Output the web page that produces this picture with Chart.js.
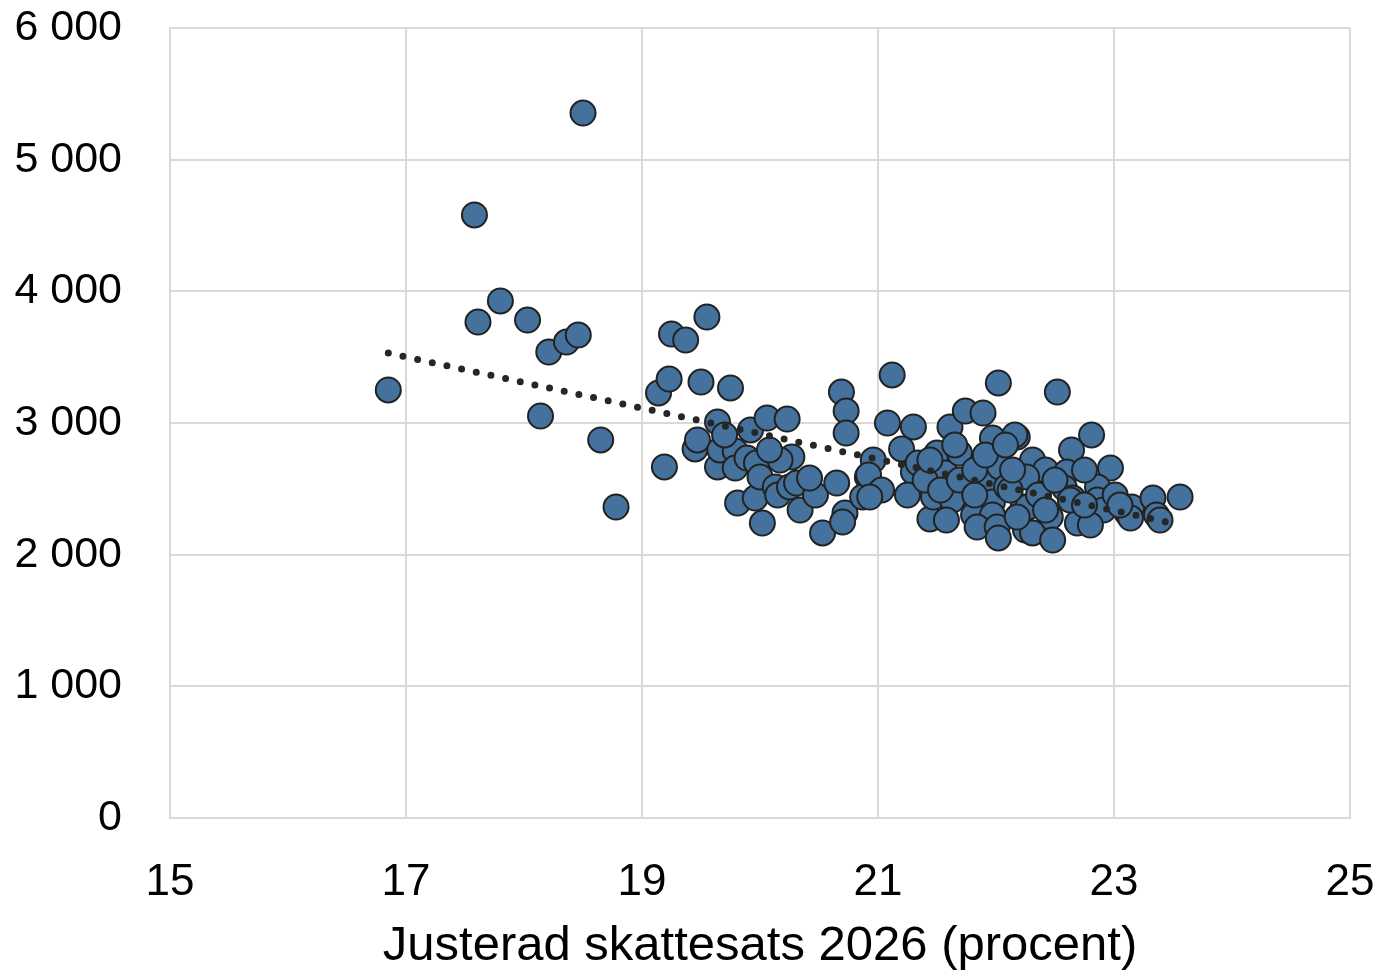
<!DOCTYPE html>
<html>
<head>
<meta charset="utf-8">
<script src="https://cdn.jsdelivr.net/npm/chart.js@4/dist/chart.umd.min.js"></script>
<style>
  html, body { margin: 0; padding: 0; background: #fff; }
  #wrap { width: 1380px; height: 973px; position: relative; }
</style>
</head>
<body>
<div id="wrap"><canvas id="chart" width="1380" height="973"></canvas></div>
<script>
// skattesats (procent) per kommun
const skattesats = [
  16.85, 17.58, 18.50, 17.61, 17.80, 18.03, 18.14, 18.21, 18.36, 18.46,
  18.65, 18.78, 19.14, 19.23, 19.25, 19.37, 19.19, 19.50, 19.55, 19.45,
  19.47, 19.64, 19.75, 19.64, 19.66, 19.79, 19.79, 19.92, 19.89, 19.97,
  19.81, 19.96, 20.02, 20.06, 20.23, 20.27, 20.00, 20.13, 20.15, 20.25,
  20.31, 20.34, 20.47, 20.65, 20.53, 20.72, 20.70, 20.69, 20.73, 20.73,
  20.91, 20.87, 20.96, 20.92, 21.03, 21.12, 21.08, 21.30, 21.20, 20.93,
  21.30, 21.34, 21.50, 21.25, 21.44, 21.47, 21.57, 21.69, 21.63, 21.58,
  21.61, 21.74, 21.89, 22.02, 21.97, 22.18, 21.92, 22.03, 22.25, 21.97,
  21.81, 21.97, 21.84, 22.01, 22.02, 22.23, 22.25, 22.52, 22.81, 22.64,
  22.97, 22.31, 22.42, 22.60, 22.26, 22.58, 22.65, 22.86, 22.86, 22.91,
  22.27, 22.46, 22.69, 22.80, 22.31, 22.48, 23.11, 23.15, 23.14, 23.33,
  23.36, 23.39, 23.56, 22.16, 22.63, 22.09, 22.18, 21.40, 21.53, 21.69,
  21.82, 21.82, 22.12, 22.36, 22.50, 22.75, 22.75, 22.14, 22.42, 21.91,
  22.08, 21.65, 21.44, 23.01, 23.05, 20.17, 20.08, 19.70, 20.42
];
// värde (kronor) per kommun
const belopp = [
  3251, 4580, 5354, 3767, 3927, 3782, 3053, 3539, 3615, 3668,
  2871, 2362, 3228, 3334, 3676, 3630, 2666, 3311, 3805, 2803,
  2871, 3008, 3266, 2666, 2795, 2787, 2658, 2947, 2734, 2696,
  2392, 2430, 2240, 3038, 3030, 2742, 2590, 2514, 2453, 2514,
  2544, 2339, 2453, 2544, 2165, 2316, 2248, 3235, 3091, 2924,
  2590, 2438, 2719, 2605, 2491, 3365, 3000, 2970, 2803, 2438,
  2628, 2696, 2772, 2453, 2271, 2438, 2620, 2772, 2415, 2263,
  2970, 3091, 3076, 3304, 2886, 2894, 2567, 2666, 2643, 2400,
  2301, 2301, 2210, 2210, 2127, 2362, 2187, 3235, 2909, 2795,
  2658, 2719, 2643, 2628, 2590, 2506, 2430, 2514, 2415, 2339,
  2362, 2286, 2240, 2225, 2165, 2111, 2316, 2362, 2278, 2430,
  2301, 2263, 2438, 2909, 2415, 2514, 2286, 2567, 2491, 2567,
  2643, 2453, 2491, 2453, 2567, 2643, 2377, 2643, 2339, 2757,
  2833, 2833, 2719, 2453, 2377, 2719, 2795, 2909, 2582
];
// linjär trendlinje (start, slut)
const trendX = [16.85, 23.49];
const trendY = [3531, 2240];

const xTicks = [15, 17, 19, 21, 23, 25];
const yTicks = [0, 1000, 2000, 3000, 4000, 5000, 6000];
const xTitle = 'Justerad skattesats 2026 (procent)';

const points = skattesats.map((x, i) => ({ x: x, y: belopp[i] }));
const trend = trendX.map((x, i) => ({ x: x, y: trendY[i] }));

function fmt(v) {
    return String(v).replace(/\B(?=(\d{3})+(?!\d))/g, ' ');
}

const family = '"Liberation Sans", Arial, sans-serif';

new Chart(document.getElementById('chart').getContext('2d'), {
    type: 'scatter',
    data: {
        datasets: [
            {
                label: 'Trend',
                data: trend,
                showLine: true,
                pointRadius: 0,
                borderColor: '#262626',
                borderWidth: 7,
                borderDash: [0, 15],
                borderCapStyle: 'round',
                order: 0
            },
            {
                label: 'Kommuner',
                data: points,
                pointRadius: 12.5,
                pointHoverRadius: 12.5,
                backgroundColor: '#44729C',
                borderColor: '#222222',
                borderWidth: 2,
                order: 1
            }
        ]
    },
    options: {
        responsive: false,
        animation: false,
        layout: { padding: { top: 28, right: 30, left: 0, bottom: 0 } },
        plugins: { legend: { display: false }, tooltip: { enabled: false } },
        scales: {
            x: {
                type: 'linear',
                min: 15,
                max: 25,
                afterBuildTicks: (axis) => { axis.ticks = xTicks.map(v => ({ value: v })); },
                afterFit: (axis) => {
                    axis.height = 155;
                    axis.paddingLeft = 0;
                    axis.paddingRight = 0;
                },
                grid: { color: '#d9d9d9', lineWidth: 2, drawTicks: false },
                border: { color: '#d9d9d9', width: 2 },
                ticks: { color: '#000', font: { family: family, size: 44 }, padding: 38, maxRotation: 0 },
                title: { display: true, text: xTitle, color: '#000', font: { family: family, size: 49 }, padding: { top: 8, bottom: -3 } }
            },
            y: {
                min: 0,
                max: 6000,
                afterBuildTicks: (axis) => { axis.ticks = yTicks.map(v => ({ value: v })); },
                afterFit: (axis) => {
                    axis.width = 170;
                    axis.paddingTop = 0;
                    axis.paddingBottom = 0;
                },
                grid: { color: '#d9d9d9', lineWidth: 2, drawTicks: false },
                border: { color: '#d9d9d9', width: 2 },
                ticks: { color: '#000', font: { family: family, size: 43 }, padding: 48, callback: (v) => fmt(v) }
            }
        }
    }
});
</script>
</body>
</html>
